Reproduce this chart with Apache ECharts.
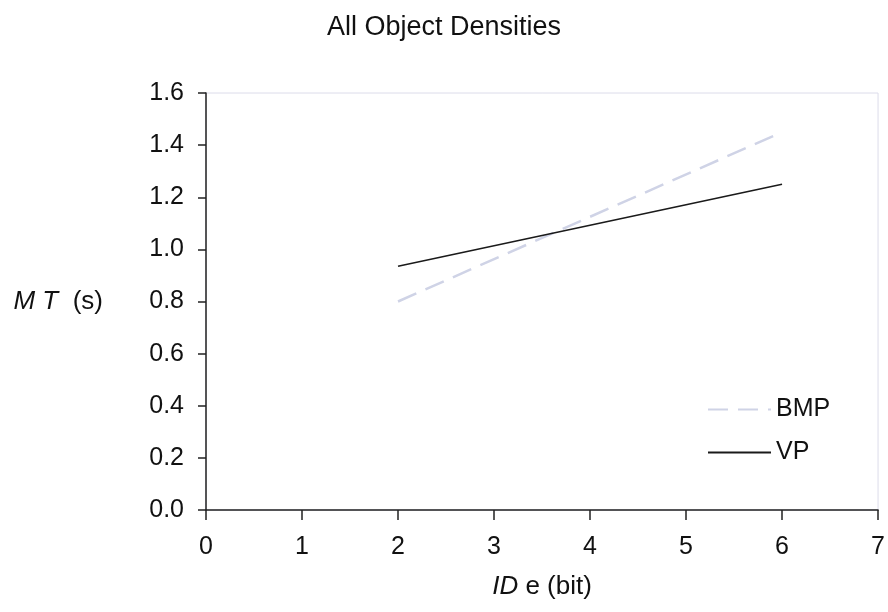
<!DOCTYPE html>
<html>
<head>
<meta charset="utf-8">
<script src="https://cdn.jsdelivr.net/npm/echarts@6/dist/echarts.min.js"></script>
<style>html,body{margin:0;padding:0;background:#fff}#c{width:888px;height:612px}</style>
</head>
<body>
<div id="c"></div>
<script>
var xValues = [2, 6];
var bmpValues = [0.80, 1.45];
var vpValues = [0.935, 1.25];
var xTicks = [0, 1, 2, 3, 4, 5, 6, 7];
var yTicks = [0.0, 0.2, 0.4, 0.6, 0.8, 1.0, 1.2, 1.4, 1.6];

var FONT = '"Liberation Sans", Arial, sans-serif';
function pairs(xs, ys) { return xs.map(function (x, i) { return [x, ys[i]]; }); }

var chart = echarts.init(document.getElementById('c'), null, { renderer: 'canvas' });
chart.setOption({
  animation: false,
  backgroundColor: '#fff',
  textStyle: { fontFamily: FONT, color: '#111' },
  title: {
    text: 'All Object Densities',
    left: 'center',
    top: 9,
    textStyle: { fontFamily: FONT, fontSize: 27, fontWeight: 'normal', color: '#111' }
  },
  grid: {
    left: 206, right: 6, top: 93, bottom: 102,
    show: true, borderColor: '#dcdcea', borderWidth: 1
  },
  legend: {
    orient: 'vertical',
    left: 702,
    top: 392,
    itemWidth: 63,
    itemHeight: 14,
    itemGap: 18,
    itemStyle: { opacity: 0 },
    textStyle: { fontFamily: FONT, fontSize: 25, color: '#111' },
    data: ['BMP', 'VP']
  },
  xAxis: {
    type: 'value',
    min: xTicks[0],
    max: xTicks[xTicks.length - 1],
    interval: 1,
    splitLine: { show: false },
    axisLine: { show: true, onZero: false, lineStyle: { color: '#222', width: 1.5 } },
    axisTick: { show: true, length: 10, lineStyle: { color: '#222', width: 1.5 } },
    axisLabel: { fontFamily: FONT, fontSize: 25, color: '#111', margin: 25 },
    name: '{i|ID} e (bit)',
    nameLocation: 'middle',
    nameGap: 64,
    nameTextStyle: {
      fontFamily: FONT, fontSize: 26, color: '#111',
      rich: { i: { fontFamily: FONT, fontSize: 26, fontStyle: 'italic', color: '#111' } }
    }
  },
  yAxis: {
    type: 'value',
    min: yTicks[0],
    max: yTicks[yTicks.length - 1],
    interval: 0.2,
    splitLine: { show: false },
    axisLine: { show: true, onZero: false, lineStyle: { color: '#222', width: 1.5 } },
    axisTick: { show: true, length: 8, lineStyle: { color: '#222', width: 1.5 } },
    axisLabel: {
      fontFamily: FONT, fontSize: 25, color: '#111', margin: 22,
      formatter: function (v) { return v.toFixed(1); }
    },
    name: '{i|M T}  (s)',
    nameLocation: 'middle',
    nameRotate: 0,
    nameGap: 103,
    nameTextStyle: {
      fontFamily: FONT, fontSize: 26, color: '#111', align: 'right',
      rich: { i: { fontFamily: FONT, fontSize: 26, fontStyle: 'italic', color: '#111' } }
    }
  },
  series: [
    {
      name: 'BMP', type: 'line', data: pairs(xValues, bmpValues),
      showSymbol: false, symbol: 'none',
      itemStyle: { color: '#cfd3e6' },
      lineStyle: { color: '#cfd3e6', width: 2.5, type: [20, 10] }
    },
    {
      name: 'VP', type: 'line', data: pairs(xValues, vpValues),
      showSymbol: false, symbol: 'none',
      itemStyle: { color: '#1a1a1a' },
      lineStyle: { color: '#1a1a1a', width: 1.5 }
    }
  ]
});
</script>
</body>
</html>
